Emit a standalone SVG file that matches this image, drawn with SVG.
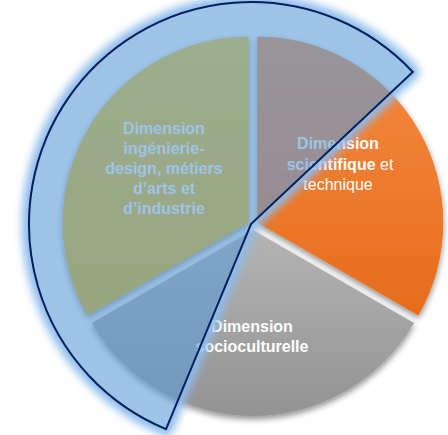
<svg xmlns="http://www.w3.org/2000/svg" width="448" height="435" viewBox="0 0 448 435">
  <style>
    .lbl { font-family: "Liberation Sans", Arial, sans-serif; font-size: 16px; fill: #FFFFFF; text-anchor: middle; }
    .b { font-weight: bold; }
    .r { font-weight: normal; }
  </style>
  <defs>
    <linearGradient id="gGold" x1="0" y1="0" x2="0" y2="1">
      <stop offset="0" stop-color="#FFC823"/>
      <stop offset="1" stop-color="#F2B400"/>
    </linearGradient>
    <linearGradient id="gOrange" x1="0" y1="0" x2="0" y2="1">
      <stop offset="0" stop-color="#F58C42"/>
      <stop offset="1" stop-color="#E66C1C"/>
    </linearGradient>
    <linearGradient id="gGrey" x1="0" y1="0" x2="0" y2="1">
      <stop offset="0" stop-color="#B4B4B4"/>
      <stop offset="1" stop-color="#939393"/>
    </linearGradient>
    <filter id="shadow" x="-10%" y="-10%" width="120%" height="125%">
      <feGaussianBlur in="SourceAlpha" stdDeviation="3"/>
      <feOffset dx="0" dy="3" result="o"/>
      <feComponentTransfer><feFuncA type="linear" slope="0.45"/></feComponentTransfer>
      <feMerge><feMergeNode/><feMergeNode in="SourceGraphic"/></feMerge>
    </filter>
    <filter id="blur" x="-20%" y="-20%" width="140%" height="140%">
      <feGaussianBlur stdDeviation="4.5"/>
    </filter>
    <mask id="outside" maskUnits="userSpaceOnUse" x="0" y="0" width="448" height="435">
      <rect x="0" y="0" width="448" height="435" fill="#FFFFFF"/>
      <path d="M412.8,72 A222,222 0 1 0 166,429.1 L251,224 Z" fill="#000000"/>
    </mask>
  </defs>

  <g id="slices" filter="url(#shadow)">
    <g id="slice-ingenierie">
      <path d="M248.67,222.5 L87.59,315.5 A186,186 0 0 1 248.67,36.5 Z" fill="url(#gGold)"/>
    </g>
    <g id="slice-scientifique">
      <path d="M257.33,222.5 L257.33,36.5 A186,186 0 0 1 418.41,315.5 Z" fill="url(#gOrange)"/>
    </g>
    <g id="slice-socioculturelle">
      <path d="M253,230 L414.08,323 A186,186 0 0 1 91.92,323 Z" fill="url(#gGrey)"/>
    </g>
  </g>

  <g id="labels">
    <text class="lbl b" x="164" y="133.5">Dimension</text>
    <text class="lbl b" x="164" y="153.7">ingénierie-</text>
    <text class="lbl b" x="164" y="173.9">design, métiers</text>
    <text class="lbl b" x="164" y="194.1">d’arts et</text>
    <text class="lbl b" x="164" y="214.3">d’industrie</text>

    <text class="lbl b" x="338" y="149">Dimension</text>
    <text class="lbl" x="340" y="169.5"><tspan class="b">scientifique</tspan><tspan class="r"> et</tspan></text>
    <text class="lbl r" x="338" y="190">technique</text>

    <text class="lbl b" x="252" y="332">Dimension</text>
    <text class="lbl b" x="252" y="352">socioculturelle</text>
  </g>

  <g id="overlay">
    <g mask="url(#outside)">
      <path d="M412.8,72 A222,222 0 1 0 166,429.1 L251,224 Z" fill="#8EBCEB" stroke="#8EBCEB" stroke-width="14" stroke-linejoin="round" filter="url(#blur)"/>
    </g>
    <path d="M412.8,72 A222,222 0 1 0 166,429.1 L251,224 Z" fill="#5B9BD5" fill-opacity="0.6" stroke="#002060" stroke-width="2" stroke-linejoin="miter"/>
  </g>

  <g id="connectors"/>
</svg>
